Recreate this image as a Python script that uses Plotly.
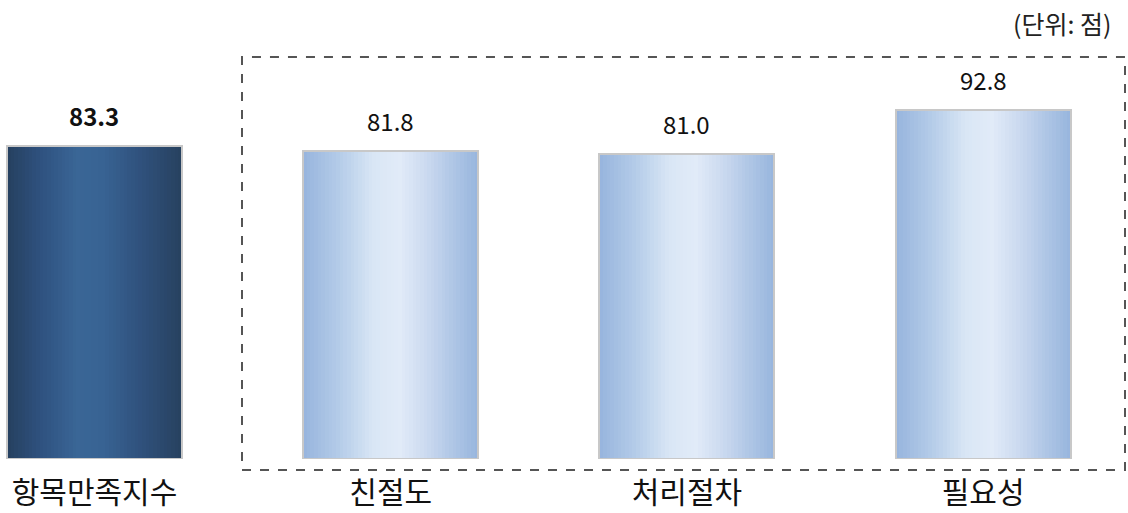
import plotly.graph_objects as go
import numpy as np

# ---- data ----
categories = ["항목만족지수", "친절도", "처리절차", "필요성"]
values = [83.3, 81.8, 81.0, 92.8]
bold_label = [True, False, False, False]
unit_text = "(단위: 점)"

# ---- style ----
FONT = "Noto Sans CJK KR"
dark_stops = [(0.0, "#25405f"), (0.2, "#2f5280"), (0.4, "#3a6696"), (0.55, "#386393"),
              (0.75, "#30527e"), (1.0, "#27415f")]
light_stops = [(0.0, "#96b4dd"), (0.2, "#b3cbe8"), (0.4, "#d9e6f5"), (0.55, "#e1ebf8"),
               (0.7, "#ccdaf0"), (0.85, "#b0c7e6"), (1.0, "#97b5dd")]


def hex2rgb(h):
    h = h.lstrip("#")
    return np.array([int(h[i:i + 2], 16) for i in (0, 2, 4)], dtype=float)


def interp(stops, t):
    for (t0, c0), (t1, c1) in zip(stops[:-1], stops[1:]):
        if t0 <= t <= t1:
            f = (t - t0) / (t1 - t0) if t1 > t0 else 0
            c = hex2rgb(c0) * (1 - f) + hex2rgb(c1) * f
            return "rgb(%d,%d,%d)" % tuple(np.round(c))
    return stops[-1][1]


xpos = list(range(len(categories)))
W = 0.591
N = 48
sw = W / N

fig = go.Figure()
for i in range(N):
    t = (i + 0.5) / N
    cols = [interp(dark_stops, t) if j == 0 else interp(light_stops, t) for j in range(len(categories))]
    fig.add_trace(go.Bar(
        x=xpos, y=values, width=sw * 1.25, offset=-W / 2 + i * sw,
        marker=dict(color=cols, line=dict(width=0)),
        hoverinfo="skip", showlegend=False,
    ))
# outline
fig.add_trace(go.Bar(
    x=xpos, y=values, width=W,
    marker=dict(color="rgba(0,0,0,0)", line=dict(color="#c8c8c8", width=2)),
    showlegend=False, hovertemplate="%{y}<extra></extra>",
))

for xi, v, b in zip(xpos, values, bold_label):
    txt = f"<b>{v:.1f}</b>" if b else f"{v:.1f}"
    fig.add_annotation(x=xi, y=v, text=txt, showarrow=False, yanchor="bottom",
                       yshift=11, font=dict(size=24, color="#111", family=FONT))

fig.add_annotation(x=1113 / 1128, y=(459 - 23) / 439, xref="paper", yref="paper", text=unit_text,
                   showarrow=False, xanchor="right", yanchor="middle",
                   font=dict(size=25, color="#222", family=FONT))

# dashed group box
fig.add_shape(type="rect", xref="paper", yref="paper",
              x0=242 / 1128, x1=1125 / 1128, y0=-0.025, y1=0.9157,
              line=dict(color="#555555", width=2, dash="dash"), fillcolor="rgba(0,0,0,0)")

fig.update_layout(
    width=1128, height=513,
    margin=dict(l=0, r=0, t=20, b=54, autoexpand=False),
    paper_bgcolor="white", plot_bgcolor="white",
    barmode="overlay", bargap=0,
    font=dict(family=FONT),
    xaxis=dict(range=[-0.319, 3.489], tickvals=xpos, ticktext=categories,
               showgrid=False, zeroline=False, showline=False, ticks="", automargin=False,
               tickfont=dict(size=30, color="#111", family=FONT), ticklabelstandoff=13),
    yaxis=dict(range=[0, 439 / 3.76], visible=False, showgrid=False, zeroline=False,
               automargin=False),
)

fig.write_html("out.html", config={"displayModeBar": False},
               post_script="document.body.style.margin='0';")
